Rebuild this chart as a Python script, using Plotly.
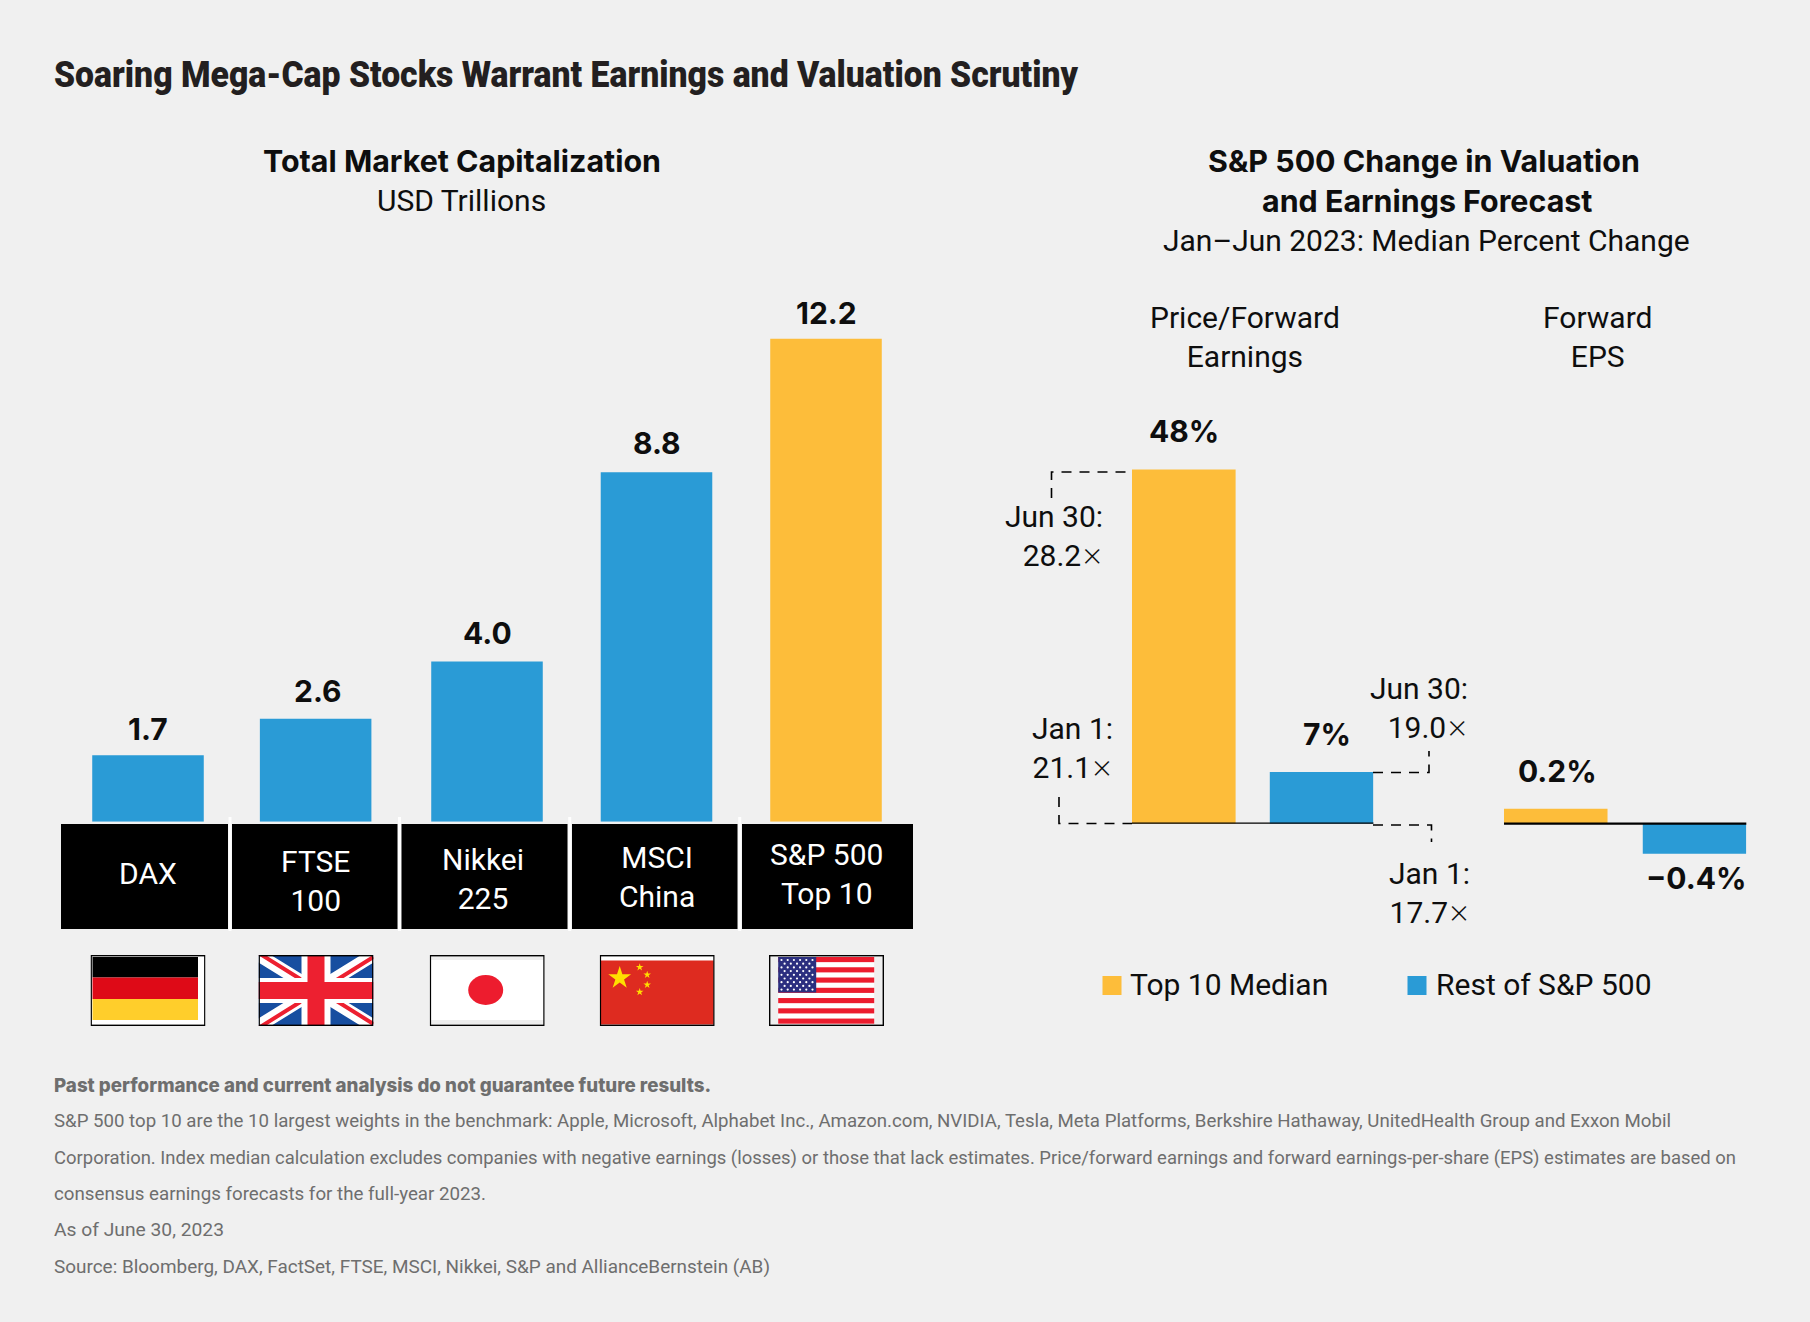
import base64
import json
import math
import plotly.graph_objects as go

# ---------- data ----------
INDEX_NAMES = ["DAX", "FTSE<br>100", "Nikkei<br>225", "MSCI<br>China", "S&P 500<br>Top 10"]
MARKET_CAP = [1.68, 2.6, 4.05, 8.83, 12.2]
MARKET_CAP_LABELS = ["1.7", "2.6", "4.0", "8.8", "12.2"]
SERIES = ["Top 10 Median", "Rest of S&P 500"]
PE_CHANGE = [48, 7]
PE_LABELS = ["48%", "7%"]
EPS_CHANGE = [0.2, -0.4]
EPS_LABELS = ["0.2%", "\u22120.4%"]

TITLE = "Soaring Mega-Cap Stocks Warrant Earnings and Valuation Scrutiny"
FOOT_BOLD = "Past performance and current analysis do not guarantee future results."
FOOTNOTES = [
    "S&P 500 top 10 are the 10 largest weights in the benchmark: Apple, Microsoft, Alphabet Inc., Amazon.com, NVIDIA, Tesla, Meta Platforms, Berkshire Hathaway, UnitedHealth Group and Exxon Mobil",
    "Corporation. Index median calculation excludes companies with negative earnings (losses) or those that lack estimates. Price/forward earnings and forward earnings-per-share (EPS) estimates are based on",
    "consensus earnings forecasts for the full-year 2023.",
    "As of June 30, 2023",
    "Source: Bloomberg, DAX, FactSet, FTSE, MSCI, Nikkei, S&P and AllianceBernstein (AB)",
]

# ---------- style / layout ----------
W, H = 1810, 1322
BG = "#F0F0F0"
YELLOW = "#FDBD3A"
BLUE = "#2A9BD6"
INK = "#0E0E0E"
BODY = "Roboto"
HEAVY = "Inter"
SZ = 30
HEAD = 30.4
TIMES = '<span style="font-family:Inter;font-weight:200;font-size:34px">\u00d7</span>'


def px(x):
    return x / W


def py(y):
    return 1 - y / H


def ann(x, y, text, size=SZ, color=INK, family=BODY, xanchor="center", weight=400):
    return dict(xref="paper", yref="paper", x=px(x), y=py(y), text=text, showarrow=False,
                xanchor=xanchor, yanchor="middle", align=xanchor,
                font=dict(family=family, size=size, color=color, weight=weight))


fig = go.Figure()
fig.add_trace(go.Bar(x=INDEX_NAMES, y=MARKET_CAP, width=0.658,
                     marker=dict(color=[BLUE, BLUE, BLUE, BLUE, YELLOW], line_width=0),
                     offset=[-0.329, -0.34, -0.329, -0.329, -0.329],
                     xaxis="x", yaxis="y", showlegend=False))
fig.add_trace(go.Bar(x=SERIES, y=PE_CHANGE, width=0.752,
                     marker=dict(color=[YELLOW, BLUE], line_width=0),
                     xaxis="x2", yaxis="y2", showlegend=False))
fig.add_trace(go.Bar(x=SERIES, y=EPS_CHANGE, width=0.746,
                     marker=dict(color=[YELLOW, BLUE], line_width=0),
                     xaxis="x3", yaxis="y3", showlegend=False))

annotations = [ann(52, 75, TITLE, size=36, color="#231F20", family=BODY, xanchor="left", weight=900)]
annotations += [
    ann(462, 161, "Total Market Capitalization", family=HEAVY, size=HEAD, weight=700),
    ann(462, 201, "USD Trillions"),
    ann(1424, 161, "S&P 500 Change in Valuation", family=HEAVY, size=HEAD, weight=700),
    ann(1427, 201, "and Earnings Forecast", family=HEAVY, size=HEAD, weight=700),
    ann(1426, 240, "Jan\u2013Jun 2023: Median Percent Change"),
    ann(1245, 337, "Price/Forward<br>Earnings"),
    ann(1597, 337, "Forward<br>EPS"),
    ann(1105, 536, f"Jun 30:<br>28.2{TIMES}", xanchor="right"),
    ann(1115, 748, f"Jan 1:<br>21.1{TIMES}", xanchor="right"),
    ann(1470, 708, f"Jun 30:<br>19.0{TIMES}", xanchor="right"),
    ann(1472, 893, f"Jan 1:<br>17.7{TIMES}", xanchor="right"),
    ann(1128, 985, SERIES[0], xanchor="left"),
    ann(1434, 985, SERIES[1], xanchor="left"),
]

VALUE_SHIFT = [26, 28, 28, 29, 26]
for name, v, t, ys in zip(INDEX_NAMES, MARKET_CAP, MARKET_CAP_LABELS, VALUE_SHIFT):
    annotations.append(dict(xref="x", yref="y", x=name, y=v, text=t, showarrow=False,
                            yanchor="middle", yshift=ys,
                            font=dict(family=HEAVY, size=SZ, color=INK, weight=700)))
for (name, v, t, dx) in zip(SERIES, PE_CHANGE, PE_LABELS, [0, 5]):
    annotations.append(dict(xref="x2", yref="y2", x=name, y=v, text=t, showarrow=False,
                            yanchor="middle", yshift=38, xshift=dx,
                            font=dict(family=HEAVY, size=SZ, color=INK, weight=700)))
for (name, v, t, ys) in zip(SERIES, EPS_CHANGE, EPS_LABELS, [38, -24]):
    annotations.append(dict(xref="x3", yref="y3", x=name, y=v, text=t, showarrow=False,
                            yanchor="middle", yshift=ys, xshift=2,
                            font=dict(family=HEAVY, size=SZ, color=INK, weight=700)))

# category boxes
BOXES = [(61, 228), (232, 397.5), (401.5, 567.5), (572, 737.5), (742, 913)]
BOX_TEXT = [(148, 873), (315, 881), (483, 879), (657, 877), (826, 874)]
shapes = []
for (a, b), (cx, cy), name in zip(BOXES, BOX_TEXT, INDEX_NAMES):
    shapes.append(dict(type="rect", xref="paper", yref="paper", x0=px(a), x1=px(b), y0=py(929), y1=py(824),
                       fillcolor="#000", line_width=0, layer="below"))
    annotations.append(ann(cx, cy, name, color="#FFFFFF"))
for x in (230, 399.5, 569.7, 739.7):
    shapes.append(dict(type="line", xref="paper", yref="paper", x0=px(x), x1=px(x), y0=py(931), y1=py(817),
                       line=dict(color="#FFFFFF", width=3), layer="below"))

# baselines bound to the axes
for ax, ay in (("x2", "y2"), ("x3", "y3")):
    shapes.append(dict(type="line", xref=f"{ax} domain", yref=ay, x0=0, x1=1, y0=0, y1=0,
                       line=dict(color="#000", width=2.2)))

# dashed leaders
DASH = "10px,8px"
for pts in ([(1051.5, 498), (1051.5, 472), (1132, 472)],
            [(1059, 797), (1059, 823.5), (1132, 823.5)],
            [(1373, 772.5), (1429, 772.5), (1429, 751)],
            [(1373, 825), (1431.5, 825), (1431.5, 842)]):
    path = "M" + " L".join(f"{px(x):.5f},{py(y):.5f}" for x, y in pts)
    shapes.append(dict(type="path", xref="paper", yref="paper", path=path,
                       line=dict(color="#000", width=1.6, dash=DASH)))

# legend swatches
for x0, col in ((1102.5, YELLOW), (1407.5, BLUE)):
    shapes.append(dict(type="rect", xref="paper", yref="paper", x0=px(x0), x1=px(x0 + 19), y0=py(995), y1=py(976),
                       fillcolor=col, line_width=0))

# footnotes
annotations.append(ann(52, 1085, FOOT_BOLD, size=18.7, color="#6E6E6E", family=HEAVY, xanchor="left", weight=800))
for y, t in zip((1121, 1158, 1194, 1230, 1267), FOOTNOTES):
    annotations.append(ann(52, y, t, size=18.7, color="#6E6E6E", xanchor="left"))


# ---------- flags ----------
def star(cx, cy, r, fill="#FFDE00"):
    pts = []
    for i in range(10):
        rr = r if i % 2 == 0 else r * 0.382
        a = -math.pi / 2 + i * math.pi / 5
        pts.append(f"{cx + rr * math.cos(a):.2f},{cy + rr * math.sin(a):.2f}")
    return f'<polygon points="{" ".join(pts)}" fill="{fill}"/>'


def svg(inner, w=115, h=71):
    s = (f'<svg xmlns="http://www.w3.org/2000/svg" width="{w * 2}" height="{h * 2}" viewBox="0 0 {w} {h}">'
         f'<rect width="{w}" height="{h}" fill="#fff"/>{inner}'
         f'<rect x=".7" y=".7" width="{w - 1.4}" height="{h - 1.4}" fill="none" stroke="#000" stroke-width="1.4"/></svg>')
    return "data:image/svg+xml;base64," + base64.b64encode(s.encode()).decode()


de = ('<rect x="2" y="2" width="105.5" height="20.5" fill="#000"/>'
      '<rect x="2" y="22.5" width="105.5" height="21.5" fill="#DE0A17"/>'
      '<rect x="2" y="44" width="105.5" height="21" fill="#FFCE2B"/>')
uk = ('<rect width="115" height="71" fill="#174EA0"/>'
      '<path d="M0,0 L115,71 M115,0 L0,71" stroke="#fff" stroke-width="13"/>'
      '<path d="M0,0 L57,35.5 M115,71 L58,35.5" stroke="#ED2030" stroke-width="4" transform="translate(0,-2)"/>'
      '<path d="M115,0 L58,35.5 M0,71 L57,35.5" stroke="#ED2030" stroke-width="4" transform="translate(0,2)"/>'
      '<rect x="43" width="29" height="71" fill="#fff"/><rect y="23" width="115" height="25" fill="#fff"/>'
      '<rect x="49" width="17" height="71" fill="#ED2030"/><rect y="27" width="115" height="17" fill="#ED2030"/>')
jp = ('<rect x="1" y="65" width="113" height="4" fill="#EEE"/><rect x="1" y="1" width="113" height="4" fill="#EEE"/>'
      '<ellipse cx="56" cy="35" rx="17.5" ry="15" fill="#ED1C2E"/>')
cn = ('<rect x="1" y="5.5" width="113" height="64" fill="#DE2B20"/>'
      + star(20, 23, 12) + star(40, 12.3, 4) + star(47.5, 19.7, 4) + star(47.5, 29.7, 4) + star(40, 37, 4))
us_parts = ['<rect width="115" height="71" fill="#EFEFEF"/><rect x="9.2" y="2" width="96" height="67" fill="#fff"/>']
for i in range(0, 13, 2):
    us_parts.append(f'<rect x="9.2" y="{2 + i * 5.13:.2f}" width="96" height="5.13" fill="#EC1C2E"/>')
us_parts.append('<rect x="9.2" y="2" width="38" height="35.5" fill="#2B2F7F"/>')
for r in range(9):
    for c in range(6 if r % 2 == 0 else 5):
        cx = 12.5 + c * 6.2 + (0 if r % 2 == 0 else 3.1)
        cy = 5 + r * 3.7
        us_parts.append(f'<circle cx="{cx:.1f}" cy="{cy:.1f}" r="1.1" fill="#fff"/>')
us = "".join(us_parts)

FLAG_BOXES = [(90.5, de), (258.5, uk), (429.7, jp), (599.7, cn), (769, us)]
images = [dict(source=svg(f), xref="paper", yref="paper", x=px(x0), y=py(955), sizex=115 / W, sizey=71 / H,
               xanchor="left", yanchor="top", sizing="stretch", layer="above")
          for x0, f in FLAG_BOXES]


def dom_x(a, b):
    return [px(a), px(b)]


def dom_y(top, bottom):
    return [py(bottom), py(top)]


hidden = dict(visible=False, showgrid=False, zeroline=False, fixedrange=True)
fig.update_layout(
    width=W, height=H, margin=dict(l=0, r=0, t=0, b=0, pad=0), autosize=False,
    paper_bgcolor=BG, plot_bgcolor="rgba(0,0,0,0)", barmode="overlay", showlegend=False,
    xaxis=dict(domain=dom_x(63.25, 910.75), range=[-0.5, 4.5], type="category",
               categoryorder="array", categoryarray=INDEX_NAMES, anchor="y", **hidden),
    yaxis=dict(domain=dom_y(327, 821.7), range=[0, 12.5], anchor="x", **hidden),
    xaxis2=dict(domain=dom_x(1132, 1373.4), range=[-0.376, 1.376], type="category",
                categoryorder="array", categoryarray=SERIES, anchor="y2", **hidden),
    yaxis2=dict(domain=dom_y(440, 823.7), range=[0, 383.7 / 7.38], anchor="x2", **hidden),
    xaxis3=dict(domain=dom_x(1504, 1746.3), range=[-0.373, 1.373], type="category",
                categoryorder="array", categoryarray=SERIES, anchor="y3", **hidden),
    yaxis3=dict(domain=dom_y(786.2, 861.2), range=[-0.5, 0.5], anchor="x3", **hidden),
    annotations=annotations, shapes=shapes, images=images,
)

# fit the long single-line texts to their measured widths in the reference
FIT = dict(zip([TITLE, FOOT_BOLD] + FOOTNOTES, [1024, 657, 1617, 1682, 432, 170, 716]))
post = """
document.body.style.margin='0';document.documentElement.style.overflow='hidden';
var FIT=%s;
document.querySelectorAll('.annotation-text').forEach(function(t){
  var w=FIT[t.textContent]; if(!w) return;
  var b=t.getBBox();
  t.style.textAnchor='start';
  t.setAttribute('x',b.x);
  t.setAttribute('textLength',w);
  t.setAttribute('lengthAdjust','spacingAndGlyphs');
});
""" % json.dumps(FIT)

fig.write_html("out.html", config={"displayModeBar": False}, post_script=post)
